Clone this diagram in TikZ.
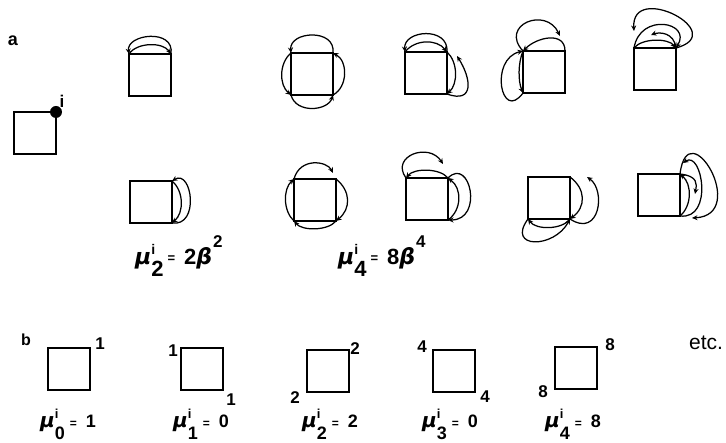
\documentclass[tikz,border=0pt]{standalone}
\usepackage{fontspec}
\setmainfont{Liberation Sans}
\newfontfamily\grk{DejaVu Sans}
\usetikzlibrary{arrows.meta}
\newcommand{\grb}[1]{{\grk\bfseries\itshape #1}}
\newcommand{\momA}[2]{\grb{μ}\rlap{\raisebox{10pt}{\fontsize{14}{14}\selectfont i}}\raisebox{-12pt}{#1}\hspace{4pt}\raisebox{2pt}{\fontsize{13}{13}\selectfont =}\hspace{9pt}#2}
\newcommand{\momB}[2]{{\fontsize{20}{20}\selectfont\grb{μ}}\rlap{\raisebox{9pt}{\fontsize{13}{13}\selectfont i}}\raisebox{-12pt}{#1}\hspace{5pt}{\fontsize{12}{12}\selectfont =}\hspace{9pt}#2}
\tikzset{
  sq/.style={draw, line width=2pt, minimum width=42pt, minimum height=42pt, inner sep=0pt, outer sep=0pt},
  walk/.style={line width=1.25pt, -{Stealth[length=5.5pt,width=5pt]}},
  corner/.style={font=\bfseries\fontsize{17}{17}\selectfont, inner sep=0pt},
  formA/.style={anchor=base west, inner sep=0pt, font=\bfseries\fontsize{22}{22}\selectfont},
  formB/.style={anchor=base west, inner sep=0pt, font=\bfseries\fontsize{18}{18}\selectfont},
}
\begin{document}
\begin{tikzpicture}[x=1pt,y=-1pt]
\useasboundingbox (0,0) rectangle (726,443);

% panel labels
\node[font=\bfseries\fontsize{18}{18}\selectfont] (la) at (13,41) {a};
\node[font=\bfseries\fontsize{16}{16}\selectfont] (lb) at (26,340) {b};

% single square with site i
\node[sq] (S0) at (35,133) {};
\node[circle, fill, inner sep=0pt, minimum size=12pt] (dot) at (S0.north east) {};
\node[font=\bfseries\fontsize{17}{17}\selectfont, inner sep=0pt] (li) at (62,101) {i};

% ---------- top row ----------
\node[sq] (T2) at (150,75) {};
\draw[walk] (T2.north east) .. controls +(4,-26) and +(-3,-20) .. (T2.north west);
\draw[walk] (T2.north west) .. controls +(8,-12) and +(-8,-12) .. (T2.north east);

\node[sq] (T4a) at (312,74) {};
\draw[walk] (T4a.north east) .. controls +(3,-25) and +(-2,-22) .. (T4a.north west);
\draw[walk] (T4a.north west) .. controls +(-12,10) and +(-12,-10) .. (T4a.south west);
\draw[walk] (T4a.south west) .. controls +(5,19) and +(-5,16) .. (T4a.south east);
\draw[walk] (T4a.south east) .. controls +(15,-8) and +(15,8) .. (T4a.north east);

\node[sq] (T4b) at (426,73) {};
\coordinate (t4be) at (457,56);
\draw[walk] (T4b.north east) .. controls +(2,-26) and +(-2,-22) .. (T4b.north west);
\draw[walk] (T4b.north west) .. controls +(10,-13) and +(-10,-13) .. (T4b.north east);
\draw[walk] (T4b.north east) .. controls +(11,10) and +(11,-10) .. (T4b.south east);
\draw[walk] (T4b.south east) .. controls +(28,10) and +(14,22) .. (t4be);

\node[sq] (T4c) at (544,72) {};
\coordinate (t4ce) at (560,36);
\draw[walk] (T4c.north east) .. controls +(0,-20) and +(14,-14) .. (T4c.north west);
\draw[walk] (T4c.north west) .. controls +(-5,12) and +(-5,-12) .. (T4c.south west);
\draw[walk] (T4c.south west) .. controls +(-22,30) and +(-34,8) .. (T4c.north west);
\draw[walk] (T4c.north west) .. controls +(-24,-26) and +(-14,-30) .. (t4ce);

\node[sq] (T4d) at (655,69) {};
\coordinate (t4db) at (651,35);
\coordinate (t4dd) at (634,31);
\draw[walk] (T4d.north west) .. controls +(8,-10) and +(-8,-10) .. (T4d.north east);
\draw[walk] (T4d.north east) .. controls +(-2,-16) and +(8,-3) .. (t4db);
\draw[walk] (T4d.north west) .. controls +(6,-36) and +(16,-26) .. (T4d.north east);
\draw[walk] (T4d.north east) .. controls +(55,-15) and +(-3,-50) .. (t4dd);

% ---------- bottom row ----------
\node[sq] (B2) at (151,202) {};
\draw[walk] (B2.south east) .. controls +(28,4) and +(20,-12) .. (B2.north east);
\draw[walk] (B2.north east) .. controls +(12,10) and +(12,-10) .. (B2.south east);

\node[sq] (B4a) at (315,200) {};
\coordinate (b4ae) at (333,173);
\draw[walk] (B4a.north east) .. controls +(15,12) and +(15,-12) .. (B4a.south east);
\draw[walk] (B4a.south east) .. controls +(-8,10) and +(8,10) .. (B4a.south west);
\draw[walk] (B4a.south west) .. controls +(-11,-10) and +(-11,10) .. (B4a.north west);
\draw[walk] (B4a.north west) .. controls +(6,-22) and +(-6,-12) .. (b4ae);

\node[sq] (B4b) at (427,199) {};
\coordinate (b4be) at (443,164);
\draw[walk] (B4b.south east) .. controls +(14,-10) and +(14,10) .. (B4b.north east);
\draw[walk] (B4b.north east) .. controls +(22,-22) and +(36,0) .. (B4b.south east);
\draw[walk] (B4b.north east) .. controls +(-8,-10) and +(8,-10) .. (B4b.north west);
\draw[walk] (B4b.north west) .. controls +(-16,-22) and +(-14,-22) .. (b4be);

\node[sq] (B4c) at (549,198) {};
\coordinate (b4ce) at (587,177);
\draw[walk] (B4c.north east) .. controls +(16,12) and +(16,-12) .. (B4c.south east);
\draw[walk] (B4c.south east) .. controls +(-8,11) and +(8,11) .. (B4c.south west);
\draw[walk] (B4c.south west) .. controls +(-22,30) and +(-16,30) .. (B4c.south east);
\draw[walk] (B4c.south east) .. controls +(30,19.5) and +(19,13) .. (b4ce);

\node[sq] (B4d) at (659,195) {};
\coordinate (b4db) at (695,194);
\coordinate (b4dc) at (683,163);
\coordinate (b4dd) at (692,218);
\draw[walk] (B4d.south east) .. controls +(12,-10) and +(12,10) .. (B4d.north east);
\draw[walk] (B4d.north east) .. controls +(18,2) and +(2,-10) .. (b4db);
\draw[walk] (B4d.south east) .. controls +(34,4) and +(19,-13) .. (b4dc);
\draw[walk] (B4d.north east) .. controls +(8,-64) and +(58,-3) .. (b4dd);

% formulas of part a
\node[formA] (fa2) at (135,265) {\momA{2}{2\grb{β}\hspace{1pt}\raisebox{17pt}{\fontsize{17}{17}\selectfont 2}}};
\node[formA] (fa4) at (338,265) {\momA{4}{8\grb{β}\hspace{1pt}\raisebox{17pt}{\fontsize{17}{17}\selectfont 4}}};

% ---------- part b ----------
\node[sq] (b0) at (69,369) {};
\node[sq] (b1) at (202,369) {};
\node[sq] (b2) at (328,371) {};
\node[sq] (b3) at (454,371) {};
\node[sq] (b4) at (576,368) {};

\node[corner] (n0a) at (100,344) {1};
\node[corner] (n1a) at (173,351) {1};
\node[corner] (n1b) at (231,400) {1};
\node[corner] (n2a) at (355,349) {2};
\node[corner] (n2b) at (295,398) {2};
\node[corner] (n3a) at (422,347) {4};
\node[corner] (n3b) at (485,397) {4};
\node[corner] (n4a) at (610,345) {8};
\node[corner] (n4b) at (543,392) {8};

\node[formB] (fb0) at (40,428) {\momB{0}{1}};
\node[formB] (fb1) at (173,428) {\momB{1}{0}};
\node[formB] (fb2) at (302,428) {\momB{2}{2}};
\node[formB] (fb3) at (422,428) {\momB{3}{0}};
\node[formB] (fb4) at (545,428) {\momB{4}{8}};

\node[font=\fontsize{21}{21}\selectfont, inner sep=0pt] (etc) at (706,343) {etc.};
\end{tikzpicture}
\end{document}
